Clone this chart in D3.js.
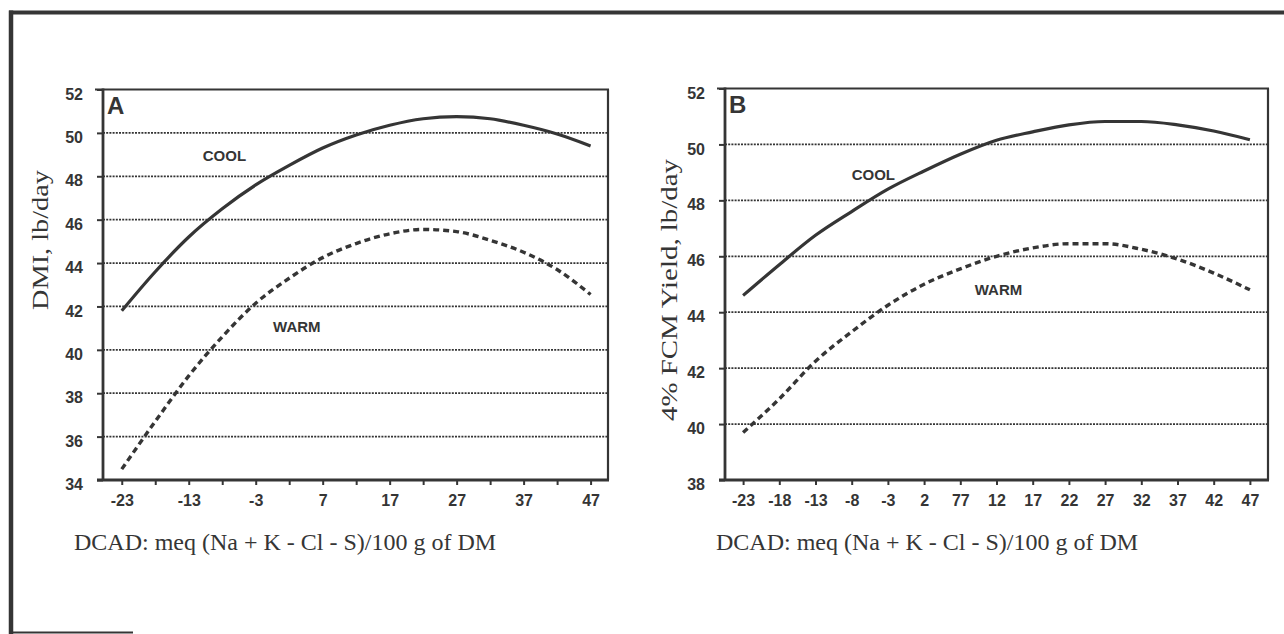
<!DOCTYPE html>
<html>
<head>
<meta charset="utf-8">
<script src="https://cdn.jsdelivr.net/npm/d3@7"></script>
<style>
  html, body { margin: 0; padding: 0; background: #fff; }
  svg { display: block; }
</style>
</head>
<body>
<svg id="chart" width="1284" height="634"></svg>
<script>
// ---------- data ----------
const dcad = [-23, -18, -13, -8, -3, 2, 7, 12, 17, 22, 27, 32, 37, 42, 47];

// Panel A: DMI, lb/day
const dmiCool = [41.8, 43.6, 45.2, 46.5, 47.6, 48.5, 49.3, 49.9, 50.35, 50.65, 50.75, 50.65, 50.35, 49.95, 49.4];
const dmiWarm = [34.5, 36.7, 38.8, 40.6, 42.15, 43.3, 44.25, 44.9, 45.35, 45.55, 45.45, 45.05, 44.5, 43.7, 42.55];

// Panel B: 4% FCM Yield, lb/day
const fcmCool = [44.6, 45.7, 46.75, 47.6, 48.4, 49.05, 49.65, 50.15, 50.45, 50.7, 50.82, 50.82, 50.7, 50.48, 50.17];
const fcmWarm = [39.7, 40.9, 42.25, 43.3, 44.25, 45.0, 45.55, 46.0, 46.3, 46.45, 46.45, 46.25, 45.9, 45.4, 44.8];

// tick values / labels
const xTicks = [-23, -18, -13, -8, -3, 2, 7, 12, 17, 22, 27, 32, 37, 42, 47];
const xLabelsA = ["-23", "", "-13", "", "-3", "", "7", "", "17", "", "27", "", "37", "", "47"];
const xLabelsB = ["-23", "-18", "-13", "-8", "-3", "2", "77", "12", "17", "22", "27", "32", "37", "42", "47"];
const yTicksA = [34, 36, 38, 40, 42, 44, 46, 48, 50, 52];
const yTicksB = [38, 40, 42, 44, 46, 48, 50, 52];

const xTitle = "DCAD: meq (Na + K - Cl - S)/100 g of DM";
const yTitleA = "DMI, lb/day";
const yTitleB = "4% FCM Yield, lb/day";
const seriesNames = ["COOL", "WARM"];

// ---------- drawing ----------
const INK = "#353535";
const svg = d3.select("#chart");

// outer frame (top + left + short bottom)
svg.append("line").attr("x1", 9).attr("x2", 1284).attr("y1", 12.5).attr("y2", 12.5)
  .attr("stroke", INK).attr("stroke-width", 4);
svg.append("line").attr("x1", 11).attr("x2", 11).attr("y1", 10.5).attr("y2", 634)
  .attr("stroke", INK).attr("stroke-width", 4.5);
svg.append("line").attr("x1", 9).attr("x2", 133).attr("y1", 632.5).attr("y2", 632.5)
  .attr("stroke", INK).attr("stroke-width", 2);

function panel(cfg) {
  const g = svg.append("g");
  const x = d3.scaleLinear().domain(cfg.xDomain).range([cfg.left, cfg.right]);
  const y = d3.scaleLinear().domain(cfg.yDomain).range([cfg.bottom, cfg.top]);

  // gridlines (dotted)
  g.selectAll("line.grid")
    .data(cfg.yTicks.filter(v => v > cfg.yDomain[0] && v < cfg.yDomain[1]))
    .join("line").attr("class", "grid")
    .attr("x1", cfg.left).attr("x2", cfg.right)
    .attr("y1", d => y(d)).attr("y2", d => y(d))
    .attr("stroke", "#333").attr("stroke-width", 1.8)
    .attr("stroke-dasharray", "2,1.2");

  // y axis
  const yAxis = d3.axisLeft(y).tickValues(cfg.yTicks).tickSize(6).tickPadding(14)
    .tickFormat(d3.format("d"));
  const ya = g.append("g").attr("transform", `translate(${cfg.left},0)`).call(yAxis);
  ya.select(".domain").remove();
  ya.selectAll(".tick line").attr("stroke", INK).attr("stroke-width", 2);
  ya.selectAll(".tick text")
    .attr("font-family", "Liberation Sans, Arial, sans-serif")
    .attr("font-weight", "bold").attr("font-size", 16).attr("fill", INK)
    .attr("dy", "0.6em");

  // x axis
  const xAxis = d3.axisBottom(x).tickValues(cfg.xTicks).tickSize(5).tickPadding(10)
    .tickFormat((d, i) => cfg.xLabels[i]);
  const xa = g.append("g").attr("transform", `translate(0,${cfg.bottom})`).call(xAxis);
  xa.select(".domain").remove();
  xa.selectAll(".tick line").attr("stroke", INK).attr("stroke-width", 2);
  xa.selectAll(".tick text")
    .attr("font-family", "Liberation Sans, Arial, sans-serif")
    .attr("font-weight", "bold").attr("font-size", 16).attr("fill", INK);

  // frame of plot
  g.append("line").attr("x1", cfg.left - 8).attr("x2", cfg.right + 1).attr("y1", cfg.top).attr("y2", cfg.top)
    .attr("stroke", INK).attr("stroke-width", 2.2);
  g.append("line").attr("x1", cfg.right).attr("x2", cfg.right).attr("y1", cfg.top).attr("y2", cfg.bottom)
    .attr("stroke", INK).attr("stroke-width", 2.2);
  g.append("line").attr("x1", cfg.left).attr("x2", cfg.left).attr("y1", cfg.top - 1).attr("y2", cfg.bottom + 1)
    .attr("stroke", INK).attr("stroke-width", 2.8);
  g.append("line").attr("x1", cfg.left - 6).attr("x2", cfg.right + 1).attr("y1", cfg.bottom).attr("y2", cfg.bottom)
    .attr("stroke", INK).attr("stroke-width", 2.8);

  // curves
  const line = d3.line().x((d, i) => x(dcad[i])).y(d => y(d)).curve(d3.curveMonotoneX);
  g.append("path").datum(cfg.cool).attr("d", line)
    .attr("fill", "none").attr("stroke", INK).attr("stroke-width", 3.2);
  g.append("path").datum(cfg.warm).attr("d", line)
    .attr("fill", "none").attr("stroke", INK).attr("stroke-width", 3.4)
    .attr("stroke-dasharray", "6,4");

  // series labels
  const lbl = (txt, p) => g.append("text").text(txt)
    .attr("x", x(p[0])).attr("y", y(p[1])).attr("dy", "0.35em")
    .attr("font-family", "Liberation Sans, Arial, sans-serif")
    .attr("font-weight", "bold").attr("font-size", 15).attr("fill", INK);
  lbl(seriesNames[0], cfg.coolPos);
  lbl(seriesNames[1], cfg.warmPos);

  // panel letter
  g.append("text").text(cfg.letter)
    .attr("x", cfg.left + 4).attr("y", cfg.top + 24)
    .attr("font-family", "Liberation Sans, Arial, sans-serif")
    .attr("font-weight", "bold").attr("font-size", 24).attr("fill", INK);

  // axis titles
  g.append("text").text(xTitle)
    .attr("x", cfg.xTitleX).attr("y", 550)
    .attr("font-family", "Liberation Serif, Times New Roman, serif")
    .attr("font-size", 24).attr("fill", INK);
  g.append("text").text(cfg.yTitle)
    .attr("transform", `translate(${cfg.yTitlePos[0]},${cfg.yTitlePos[1]}) rotate(-90)`)
    .attr("text-anchor", "middle").attr("dy", "0.35em")
    .attr("font-family", "Liberation Serif, Times New Roman, serif")
    .attr("font-size", 24).attr("fill", INK)
    .attr("textLength", cfg.yTitleLen).attr("lengthAdjust", "spacingAndGlyphs");
}

panel({
  left: 103, right: 608, top: 89.5, bottom: 480,
  xDomain: [-25.8, 49.6], yDomain: [34, 52],
  xTicks: xTicks, xLabels: xLabelsA, yTicks: yTicksA,
  cool: dmiCool, warm: dmiWarm,
  coolPos: [-10.9, 48.95], warmPos: [-0.4, 41.05],
  letter: "A", yTitle: yTitleA, yTitlePos: [40, 240], yTitleLen: 140,
  xTitleX: 74
});

panel({
  left: 725, right: 1268, top: 88.5, bottom: 480,
  xDomain: [-25.5, 49.5], yDomain: [38, 52],
  xTicks: xTicks, xLabels: xLabelsB, yTicks: yTicksB,
  cool: fcmCool, warm: fcmWarm,
  coolPos: [-8.0, 48.9], warmPos: [9.0, 44.8],
  letter: "B", yTitle: yTitleB, yTitlePos: [669, 290], yTitleLen: 262,
  xTitleX: 716
});
</script>
</body>
</html>
